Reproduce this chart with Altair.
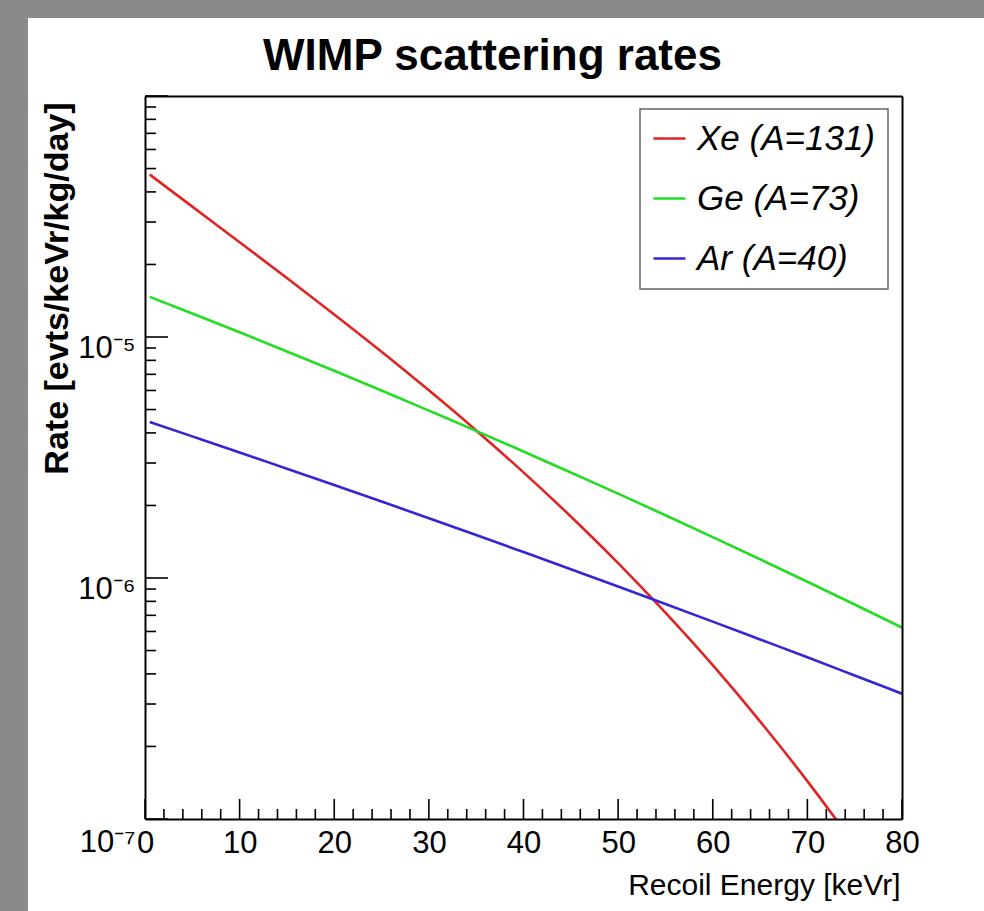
import altair as alt
import pandas as pd

# ---------------- data ----------------
energy_kev = [0.5, 5, 10, 15, 20, 25, 30, 35, 40, 45, 50, 55, 60, 65, 70, 75, 80]
xe_rate = [4.72e-5, 3.475e-5, 2.474e-5, 1.757e-5, 1.240e-5, 8.683e-6, 6.007e-6, 4.097e-6,
           2.744e-6, 1.800e-6, 1.153e-6, 7.18e-7, 4.346e-7, 2.543e-7, 1.436e-7, 7.79e-8, 4.05e-8]
ge_rate = [1.467e-5, 1.251e-5, 1.046e-5, 8.71e-6, 7.24e-6, 6.00e-6, 4.95e-6, 4.08e-6,
           3.35e-6, 2.74e-6, 2.24e-6, 1.822e-6, 1.478e-6, 1.196e-6, 9.65e-7, 7.76e-7, 6.23e-7]
ar_rate = [4.44e-6, 3.87e-6, 3.32e-6, 2.84e-6, 2.43e-6, 2.077e-6, 1.770e-6, 1.507e-6,
           1.281e-6, 1.088e-6, 9.22e-7, 7.80e-7, 6.59e-7, 5.56e-7, 4.69e-7, 3.94e-7, 3.31e-7]
series_labels = ["Xe (A=131)", "Ge (A=73)", "Ar (A=40)"]
series_colors = ["#e02424", "#22dd22", "#3426d6"]

x_major_ticks = [0, 10, 20, 30, 40, 50, 60, 70, 80]
x_minor_ticks = [v for v in range(2, 80, 2) if v % 10 != 0]
y_major_ticks = [1e-7, 1e-6, 1e-5, 1e-4]
y_minor_ticks = [k * 10.0 ** p for p in (-7, -6, -5) for k in range(2, 10)]
y_tick_labels = ["10⁻⁷", "10⁻⁶", "10⁻⁵"]

title_text = "WIMP scattering rates"
x_title = "Recoil Energy [keVr]"
y_title = "Rate [evts/keVr/kg/day]"

# ---------------- tables ----------------
rows = []
for name, vals in zip(series_labels, [xe_rate, ge_rate, ar_rate]):
    for e, r in zip(energy_kev, vals):
        rows.append({"E": e, "rate": r, "series": name})
curves = pd.DataFrame(rows)

FONT = "Liberation Sans, Arial, Helvetica, sans-serif"
W, H = 757, 723

xscale = alt.Scale(domain=[0, 80], nice=False, zero=False)
yscale = alt.Scale(type="log", domain=[1e-7, 1e-4], nice=False)

one_row = pd.DataFrame({"d": [0]})

# white panel behind the plot (decorative, not data)
panel = alt.Chart(one_row).mark_rect(color="white").encode(
    x=alt.value(-117), x2=alt.value(839), y=alt.value(-78), y2=alt.value(815)
)

title = alt.Chart(one_row).mark_text(
    font=FONT, fontSize=44, fontWeight="bold", color="black",
    align="center", baseline="alphabetic"
).encode(x=alt.value(347.5), y=alt.value(-26), text=alt.value(title_text))

label_expr = "[" + ",".join("'%s'" % s for s in y_tick_labels) + "][round(log(datum.value)/LN10) + 7]"

lines = alt.Chart(curves).mark_line(strokeWidth=2.6, clip=True, interpolate="monotone").encode(
    x=alt.X("E:Q", scale=xscale, axis=alt.Axis(
        orient="bottom", values=x_major_ticks, format="d", grid=False,
        ticks=False, tickSize=0, domain=True, domainColor="black", domainWidth=2,
        labelFont=FONT, labelFontSize=31, labelColor="black", labelPadding=9,
        labelFlush=False, labelOverlap=False,
        title=x_title, titleFont=FONT, titleFontSize=30, titleFontWeight="normal",
        titleColor="black", titleX=755, titleY=75, titleAlign="right",
        titleBaseline="alphabetic", zindex=1)),
    y=alt.Y("rate:Q", scale=yscale, axis=alt.Axis(
        orient="left", values=y_major_ticks[:3], grid=False,
        ticks=False, tickSize=0, domain=True, domainColor="black", domainWidth=2,
        labelExpr=label_expr, labelFont=FONT, labelFontSize=31, labelColor="black",
        labelPadding=10, labelBaseline="middle",
        labelOffset={"condition": {"test": "datum.value < 2e-7", "value": 23}, "value": 11},
        labelFlush=False, labelOverlap=False,
        title=y_title, titleFont=FONT, titleFontSize=34, titleFontWeight="bold",
        titleColor="black", titleX=-88, titleY=192, titleAlign="center",
        titleBaseline="middle", zindex=1)),
    color=alt.Color("series:N", scale=alt.Scale(domain=series_labels, range=series_colors),
                    legend=alt.Legend(
                        title=None, orient="none", legendX=495, legendY=13,
                        symbolType="stroke", symbolSize=1024, symbolStrokeWidth=2.5,
                        labelFont=FONT, labelFontSize=35, labelFontStyle="italic",
                        labelColor="black", labelOffset=10, labelLimit=400,
                        rowPadding=24, padding=12, strokeColor="#666666",
                        fillColor="white")),
)

x_major = alt.Chart(pd.DataFrame({"tx": x_major_ticks})).mark_rule(color="black", strokeWidth=1.6).encode(
    x=alt.X("tx:Q", scale=xscale, axis=alt.Axis(
        orient="top", labels=False, ticks=False, title=None, grid=False,
        domain=True, domainColor="black", domainWidth=2, zindex=1)),
    y=alt.value(H), y2=alt.value(H - 20),
)
x_minor = alt.Chart(pd.DataFrame({"tx": x_minor_ticks})).mark_rule(color="black", strokeWidth=1.6).encode(
    x=alt.X("tx:Q", scale=xscale, axis=None),
    y=alt.value(H), y2=alt.value(H - 10),
)
y_major = alt.Chart(pd.DataFrame({"ty": y_major_ticks})).mark_rule(color="black", strokeWidth=1.6).encode(
    y=alt.Y("ty:Q", scale=yscale, axis=alt.Axis(
        orient="right", labels=False, ticks=False, title=None, grid=False,
        domain=True, domainColor="black", domainWidth=2, zindex=1)),
    x=alt.value(0), x2=alt.value(23),
)
y_minor = alt.Chart(pd.DataFrame({"ty": y_minor_ticks})).mark_rule(color="black", strokeWidth=1.6).encode(
    y=alt.Y("ty:Q", scale=yscale, axis=None),
    x=alt.value(0), x2=alt.value(11),
)

chart = alt.layer(panel, title, x_minor, x_major, y_minor, y_major, lines).properties(
    width=W, height=H,
    padding={"left": 145, "top": 96, "right": 82, "bottom": 92},
    autosize=alt.AutoSizeParams(type="none"),
).configure(background="#8a8a8a").configure_view(stroke=None).configure_legend(strokeWidth=1.5)

chart.save("out.html", embed_options={"renderer": "svg", "actions": False})
